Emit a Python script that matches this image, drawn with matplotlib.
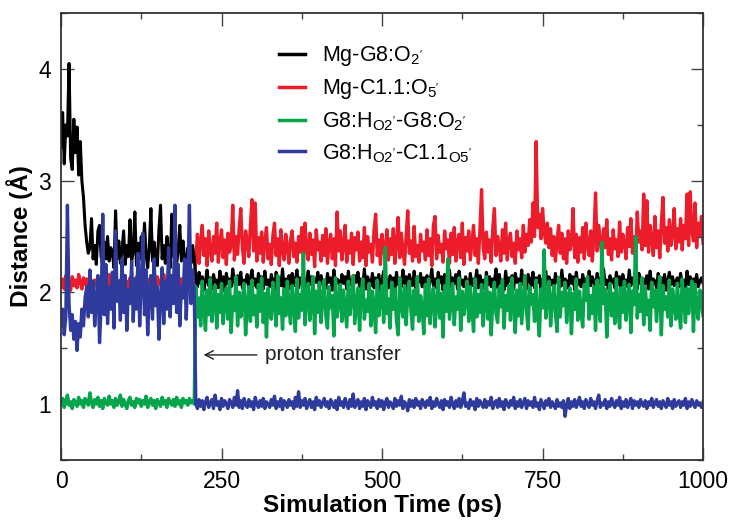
import numpy as np
import matplotlib
matplotlib.use("Agg")
import matplotlib.pyplot as plt
from matplotlib.ticker import MultipleLocator
from matplotlib.lines import Line2D

plt.rcParams['font.family'] = ['Liberation Sans', 'DejaVu Sans']
plt.rcParams['mathtext.fontset'] = 'custom'
plt.rcParams['mathtext.rm'] = 'Liberation Sans'
plt.rcParams['mathtext.it'] = 'Liberation Sans:italic'
plt.rcParams['mathtext.bf'] = 'Liberation Sans:bold'

# ---------------- data: distances (Angstrom), sampled every 2.5 ps ----------------
DT = 2.5
T_SWITCH = 210.0   # proton transfer time (ps)

black_pre = [3.30, 3.61, 3.15, 3.50, 3.40, 4.05, 3.20, 3.10, 3.55, 3.25,
             3.48, 3.05, 3.35, 3.00, 2.85, 2.60, 2.45, 2.35, 2.40, 2.66,
             2.30, 2.42, 2.25, 2.55, 2.60, 2.32, 2.24, 2.45, 2.30, 2.50,
             2.28, 2.40, 2.35, 2.22, 2.73, 2.30, 2.46, 2.26, 2.38, 2.55,
             2.25, 2.42, 2.32, 2.65, 2.28, 2.36, 2.72, 2.24, 2.44, 2.30,
             2.50, 2.26, 2.62, 2.34, 2.22, 2.40, 2.75, 2.28, 2.45, 2.32,
             2.24, 2.56, 2.78, 2.30, 2.42, 2.26, 2.50, 2.35, 2.22, 2.70,
             2.32, 2.44, 2.25, 2.38, 2.60, 2.28, 2.46, 2.30, 2.24, 2.40,
             2.34, 2.26, 2.42, 2.30]
black_post = [
    2.12, 2.05, 2.18, 2.08, 2.14, 2.02, 2.10, 2.20, 2.06, 2.13, 2.03, 2.16, 2.09, 2.11, 2.04, 2.19, 2.07, 2.14, 2.01, 2.17,
    2.08, 2.12, 2.05, 2.21, 2.10, 2.03, 2.15, 2.07, 2.18, 2.04, 2.11, 2.09, 2.16, 2.02, 2.13, 2.20, 2.06, 2.12, 2.04, 2.17,
    2.09, 2.14, 2.03, 2.19, 2.07, 2.11, 2.05, 2.16, 2.10, 2.02, 2.18, 2.08, 2.13, 2.06, 2.21, 2.04, 2.12, 2.09, 2.15, 2.03,
    2.17, 2.06, 2.11, 2.20, 2.04, 2.13, 2.08, 2.16, 2.02, 2.10, 2.19, 2.07, 2.14, 2.05, 2.12, 2.09, 2.18, 2.03, 2.15, 2.08,
    2.11, 2.04, 2.17, 2.09, 2.13, 2.02, 2.20, 2.06, 2.12, 2.10, 2.05, 2.16, 2.08, 2.14, 2.03, 2.19, 2.07, 2.11, 2.04, 2.15,
    2.09, 2.18, 2.05, 2.12, 2.07, 2.21, 2.03, 2.14, 2.10, 2.06, 2.17, 2.04, 2.13, 2.08, 2.16, 2.02, 2.11, 2.19, 2.06, 2.12,
    2.04, 2.15, 2.09, 2.13, 2.02, 2.18, 2.07, 2.11, 2.05, 2.20, 2.08, 2.14, 2.03, 2.16, 2.10, 2.06, 2.19, 2.04, 2.12, 2.09,
    2.17, 2.05, 2.13, 2.08, 2.15, 2.03, 2.11, 2.21, 2.06, 2.12, 2.04, 2.18, 2.09, 2.14, 2.02, 2.16, 2.07, 2.10, 2.20, 2.05,
    2.13, 2.08, 2.16, 2.03, 2.19, 2.07, 2.11, 2.05, 2.14, 2.10, 2.02, 2.17, 2.06, 2.12, 2.09, 2.20, 2.04, 2.15, 2.08, 2.11,
    2.03, 2.18, 2.07, 2.14, 2.05, 2.12, 2.09, 2.21, 2.04, 2.16, 2.08, 2.11, 2.02, 2.19, 2.06, 2.13, 2.10, 2.15, 2.03, 2.17,
    2.09, 2.12, 2.05, 2.20, 2.07, 2.14, 2.03, 2.16, 2.11, 2.06, 2.18, 2.04, 2.13, 2.09, 2.15, 2.02, 2.12, 2.08, 2.19, 2.05,
    2.14, 2.07, 2.11, 2.03, 2.17, 2.09, 2.13, 2.05, 2.20, 2.06, 2.12, 2.10, 2.04, 2.16, 2.08, 2.14, 2.02, 2.18, 2.07, 2.11,
    2.05, 2.16, 2.09, 2.12, 2.03, 2.19, 2.06, 2.14, 2.10, 2.04, 2.17, 2.08, 2.13, 2.05, 2.21, 2.07, 2.11, 2.03, 2.15, 2.09,
    2.12, 2.04, 2.18, 2.07, 2.14, 2.02, 2.16, 2.09, 2.11, 2.05, 2.20, 2.06, 2.13, 2.08, 2.15, 2.03, 2.17, 2.10, 2.04, 2.12,
    2.08, 2.15, 2.03, 2.19, 2.06, 2.12, 2.10, 2.04, 2.17, 2.09, 2.13, 2.05, 2.16, 2.02, 2.11, 2.18, 2.07, 2.14, 2.06, 2.10,
    2.13, 2.05, 2.17, 2.08, 2.11, 2.04, 2.19, 2.07, 2.14, 2.03, 2.12, 2.09, 2.16, 2.05, 2.10, 2.13, 2.08]

red_pre = [2.05, 2.12, 2.03, 2.15, 2.08, 2.10, 2.02, 2.14, 2.06, 2.11,
           2.04, 2.16, 2.09, 2.03, 2.13, 2.07, 2.12, 2.05, 2.15, 2.08,
           2.02, 2.11, 2.06, 2.14, 2.09, 2.04, 2.13, 2.07, 2.10, 2.03,
           2.16, 2.08, 2.12, 2.05, 2.14, 2.09, 2.03, 2.11, 2.07, 2.15,
           2.06, 2.10, 2.04, 2.13, 2.08, 2.12, 2.02, 2.14, 2.07, 2.11,
           2.05, 2.15, 2.09, 2.03, 2.12, 2.06, 2.13, 2.08, 2.10, 2.04,
           2.14, 2.07, 2.11, 2.05, 2.16, 2.09, 2.03, 2.12, 2.06, 2.13,
           2.08, 2.10, 2.04, 2.15, 2.07, 2.12, 2.05, 2.11, 2.09, 2.14,
           2.06, 2.12, 2.08, 2.10]
red_post = [
    2.30, 2.52, 2.26, 2.45, 2.60, 2.33, 2.48, 2.24, 2.55, 2.38, 2.28, 2.50, 2.35, 2.62, 2.27, 2.44, 2.56, 2.31, 2.47, 2.25,
    2.53, 2.36, 2.42, 2.78, 2.29, 2.50, 2.34, 2.58, 2.75, 2.40, 2.26, 2.55, 2.45, 2.32, 2.60, 2.83, 2.37, 2.80, 2.28, 2.49,
    2.35, 2.54, 2.27, 2.46, 2.58, 2.30, 2.43, 2.25, 2.51, 2.62, 2.33, 2.48, 2.24, 2.56, 2.38, 2.29, 2.52, 2.41, 2.26, 2.47,
    2.55, 2.32, 2.44, 2.27, 2.50, 2.36, 2.58, 2.25, 2.62, 2.40, 2.29, 2.53, 2.34, 2.47, 2.23, 2.56, 2.38, 2.45, 2.28, 2.51,
    2.33, 2.57, 2.26, 2.44, 2.52, 2.30, 2.48, 2.24, 2.72, 2.37, 2.55, 2.29, 2.42, 2.60, 2.27, 2.46, 2.35, 2.53, 2.25, 2.49,
    2.38, 2.54, 2.28, 2.45, 2.31, 2.58, 2.24, 2.50, 2.36, 2.43, 2.27, 2.55, 2.70, 2.33, 2.47, 2.25, 2.52, 2.39, 2.30, 2.56,
    2.29, 2.48, 2.34, 2.57, 2.26, 2.44, 2.67, 2.31, 2.53, 2.38, 2.25, 2.50, 2.73, 2.35, 2.46, 2.28, 2.59, 2.32, 2.42, 2.27,
    2.52, 2.37, 2.45, 2.29, 2.56, 2.33, 2.48, 2.24, 2.60, 2.68, 2.30, 2.51, 2.36, 2.43, 2.27, 2.55, 2.39, 2.47, 2.26, 2.53,
    2.34, 2.58, 2.28, 2.45, 2.52, 2.31, 2.62, 2.25, 2.49, 2.37, 2.55, 2.29, 2.44, 2.60, 2.33, 2.48, 2.26, 2.57, 2.92, 2.40,
    2.30, 2.54, 2.36, 2.47, 2.27, 2.58, 2.75, 2.33, 2.50, 2.41, 2.28, 2.56, 2.35, 2.62, 2.29, 2.46, 2.53, 2.32, 2.44, 2.26,
    2.55, 2.38, 2.48, 2.31, 2.60, 2.36, 2.52, 2.42, 2.65, 2.45, 2.80, 2.50, 3.35, 2.58, 2.70, 2.48, 2.75, 2.55, 2.44, 2.62,
    2.40, 2.57, 2.33, 2.50, 2.28, 2.46, 2.60, 2.35, 2.53, 2.30, 2.48, 2.26, 2.55, 2.38, 2.44, 2.75, 2.31, 2.52, 2.27, 2.49,
    2.36, 2.58, 2.30, 2.62, 2.42, 2.33, 2.55, 2.28, 2.50, 2.89, 2.37, 2.60, 2.45, 2.31, 2.57, 2.40, 2.65, 2.34, 2.48, 2.29,
    2.56, 2.39, 2.47, 2.32, 2.63, 2.36, 2.52, 2.44, 2.30, 2.58, 2.41, 2.66, 2.35, 2.50, 2.28, 2.72, 2.45, 2.55, 2.38, 2.88,
    2.42, 2.82, 2.36, 2.60, 2.47, 2.33, 2.68, 2.40, 2.55, 2.31, 2.62, 2.85, 2.44, 2.58, 2.37, 2.65, 2.42, 2.52, 2.75, 2.39,
    2.57, 2.45, 2.66, 2.38, 2.60, 2.48, 2.88, 2.42, 2.90, 2.55, 2.46, 2.80, 2.40, 2.62, 2.50, 2.68, 2.44]

green_pre = [1.00, 1.05, 0.97, 1.03, 1.08, 0.99, 1.02, 0.96, 1.04, 1.01,
             0.98, 1.06, 1.00, 1.03, 0.97, 1.05, 1.02, 0.99, 1.10, 1.01,
             0.97, 1.04, 1.00, 1.06, 0.98, 1.03, 0.96, 1.05, 1.01, 0.99,
             1.07, 1.00, 1.03, 0.97, 1.05, 0.99, 1.02, 1.08, 0.98, 1.04,
             1.00, 0.96, 1.03, 1.06, 0.99, 1.02, 0.97, 1.05, 1.01, 1.04,
             0.98, 1.03, 1.00, 1.07, 0.97, 1.02, 1.05, 0.99, 1.03, 0.96,
             1.04, 1.01, 0.98, 1.06, 1.00, 1.03, 0.97, 1.05, 1.02, 0.99,
             1.04, 0.98, 1.06, 1.00, 1.03, 0.97, 1.05, 1.01, 1.03, 0.99,
             1.05, 1.01, 1.03, 1.00]
green_post = [
    2.05, 1.78, 1.95, 1.70, 2.10, 1.85, 1.66, 2.02, 1.80, 2.12, 1.74, 1.92, 2.06, 1.68, 1.98, 1.82, 2.08, 1.72, 1.90, 2.04,
    1.76, 2.10, 1.64, 1.96, 1.84, 2.14, 1.70, 2.00, 1.78, 1.94, 2.08, 1.62, 1.88, 2.05, 1.74, 2.11, 1.80, 1.97, 1.69, 2.07,
    1.83, 2.13, 1.73, 1.99, 1.60, 2.04, 1.86, 1.76, 2.09, 1.92, 1.70, 2.15, 1.81, 1.95, 1.67, 2.03, 1.79, 2.10, 1.87, 1.72,
    2.06, 1.91, 1.65, 2.12, 1.77, 1.98, 1.84, 2.35, 1.71, 1.96, 2.08, 1.75, 1.89, 2.14, 1.63, 2.01, 1.82, 2.09, 1.73, 1.94,
    2.11, 1.79, 1.68, 2.05, 1.86, 1.97, 1.61, 2.13, 1.78, 1.92, 2.07, 1.74, 2.02, 1.85, 1.69, 2.10, 1.80, 1.95, 2.15, 1.72,
    1.88, 2.04, 1.66, 1.99, 2.12, 1.76, 1.93, 1.83, 2.08, 1.70, 2.01, 1.87, 1.64, 2.11, 1.79, 1.96, 2.06, 1.73, 2.40, 1.81,
    1.94, 1.68, 2.09, 1.85, 2.03, 1.75, 1.62, 2.13, 1.90, 1.78, 2.05, 1.71, 1.98, 2.10, 1.84, 1.67, 2.02, 1.80, 2.14, 1.74,
    1.97, 1.86, 1.63, 2.07, 1.79, 2.12, 1.72, 1.95, 2.04, 1.69, 1.89, 2.11, 1.77, 1.99, 1.60, 2.06, 1.83, 2.30, 1.76, 1.92,
    2.08, 1.71, 1.96, 1.85, 2.13, 1.66, 2.01, 1.80, 1.93, 2.10, 1.74, 2.05, 1.88, 1.65, 2.12, 1.78, 1.98, 1.82, 2.07, 1.70,
    1.91, 2.14, 1.76, 2.00, 1.62, 1.95, 2.09, 1.81, 1.73, 2.04, 1.87, 2.11, 1.68, 1.97, 1.84, 2.06, 1.75, 2.13, 1.90, 1.64,
    2.02, 1.79, 2.08, 1.72, 1.94, 2.15, 1.83, 1.67, 2.05, 1.89, 1.98, 1.74, 2.11, 1.80, 1.61, 2.03, 1.86, 2.38, 1.77, 1.96,
    2.10, 1.70, 1.92, 2.06, 1.82, 1.65, 2.13, 1.78, 2.00, 1.88, 2.09, 1.73, 1.95, 2.04, 1.63, 1.99, 1.85, 2.12, 1.75, 2.01,
    1.84, 1.69, 2.07, 1.93, 2.14, 1.76, 1.97, 1.81, 2.05, 1.66, 2.11, 1.87, 1.74, 2.45, 1.90, 2.03, 1.60, 1.96, 2.08, 1.79,
    1.99, 1.72, 2.12, 1.86, 1.68, 2.04, 1.82, 2.10, 1.75, 1.94, 2.07, 1.64, 2.01, 1.89, 2.50, 1.77, 1.98, 1.83, 2.13, 1.71,
    2.05, 1.80, 1.93, 1.66, 2.09, 1.87, 2.02, 1.74, 1.97, 2.14, 1.62, 2.06, 1.85, 1.96, 1.78, 2.11, 1.70, 2.03, 1.90, 1.76,
    2.08, 1.84, 1.68, 2.12, 1.95, 1.73, 2.04, 1.81, 1.99, 2.10, 1.65, 2.07, 1.88, 1.76, 2.02, 1.92, 1.79]

blue_pre = [1.70, 1.85, 1.62, 1.78, 2.78, 1.90, 1.66, 1.80, 1.58, 1.74,
            1.48, 1.72, 1.60, 1.85, 1.70, 1.95, 2.05, 1.78, 2.20, 1.82,
            2.10, 1.70, 1.95, 2.15, 1.55, 1.88, 2.70, 1.80, 2.25, 1.72,
            2.05, 1.85, 2.18, 1.68, 2.55, 1.92, 2.10, 1.75, 2.30, 1.82,
            2.15, 1.66, 2.02, 1.90, 2.28, 1.74, 2.12, 1.85, 2.35, 1.70,
            2.08, 2.53, 1.80, 2.20, 1.62, 1.98, 2.15, 1.76, 2.30, 1.88,
            2.05, 1.58, 1.95, 2.22, 1.72, 2.10, 1.85, 2.40, 1.78, 2.15,
            1.90, 2.78, 1.82, 2.25, 1.70, 2.05, 1.95, 2.30, 1.76, 2.12,
            2.78, 1.90, 2.20, 2.00]
blue_post = [
    1.00, 0.96, 1.04, 0.98, 1.03, 0.95, 1.02, 1.06, 0.97, 1.01, 1.04, 0.96, 1.08, 0.99, 1.02, 0.95, 1.05, 0.98, 1.03, 1.00,
    0.96, 1.04, 1.01, 0.97, 1.06, 0.99, 1.12, 0.97, 1.03, 0.96, 1.05, 1.00, 0.97, 1.04, 0.98, 1.02, 0.95, 1.06, 1.00, 0.97,
    1.03, 0.98, 1.05, 0.96, 1.02, 1.00, 0.97, 1.04, 0.99, 1.07, 0.96, 1.02, 0.98, 1.05, 0.95, 1.03, 1.01, 0.97, 1.04, 0.99,
    1.02, 0.96, 1.06, 0.98, 1.11, 0.97, 1.03, 0.99, 1.05, 0.96, 1.01, 1.04, 0.97, 1.02, 0.95, 1.06, 0.99, 1.03, 0.97, 1.01,
    1.05, 0.98, 1.02, 0.96, 1.04, 1.00, 0.97, 1.03, 0.95, 1.06, 0.99, 1.02, 0.97, 1.05, 1.00, 0.96, 1.04, 0.98, 1.09, 0.97,
    1.01, 1.04, 0.96, 1.02, 0.98, 1.05, 0.95, 1.03, 1.00, 0.97, 1.06, 0.99, 1.02, 0.96, 1.04, 0.98, 1.03, 0.95, 1.01, 1.05,
    0.97, 1.02, 1.00, 0.96, 1.05, 0.98, 1.03, 0.99, 1.07, 0.96, 1.02, 1.00, 0.94, 1.04, 0.98, 1.03, 0.97, 1.05, 0.99, 1.02,
    0.96, 1.04, 1.01, 0.97, 1.03, 0.99, 1.06, 0.96, 1.02, 0.98, 1.05, 1.00, 0.97, 1.03, 0.95, 1.04, 0.99, 1.02, 0.97, 1.06,
    1.00, 0.96, 1.03, 0.98, 1.05, 0.97, 1.02, 1.10, 0.98, 1.01, 0.96, 1.04, 0.99, 1.02, 0.95, 1.05, 0.98, 1.03, 1.00, 0.97,
    1.04, 0.97, 1.02, 0.99, 1.06, 0.96, 1.01, 1.03, 0.97, 1.05, 0.98, 1.02, 0.95, 1.04, 1.00, 0.97, 1.03, 0.99, 1.06, 0.96,
    1.02, 0.98, 1.04, 0.97, 1.01, 1.05, 0.96, 1.03, 0.99, 1.02, 0.97, 1.06, 0.98, 1.01, 0.95, 1.04, 1.00, 0.96, 1.03, 0.99,
    1.05, 0.97, 1.02, 0.99, 0.96, 1.04, 0.98, 1.01, 0.97, 1.03, 0.89, 0.99, 1.05, 0.96, 1.02, 0.98, 1.04, 0.97, 1.01, 1.06,
    0.98, 1.02, 0.96, 1.04, 1.00, 0.97, 1.05, 0.99, 1.02, 0.96, 1.03, 1.08, 0.97, 1.01, 0.99, 1.04, 0.96, 1.02, 0.98, 1.05,
    1.00, 0.97, 1.03, 0.99, 1.06, 0.96, 1.02, 0.98, 1.04, 0.97, 1.01, 1.05, 0.96, 1.03, 0.99, 1.02, 0.97, 1.04, 1.00, 0.98,
    1.03, 0.96, 1.02, 0.99, 1.05, 0.97, 1.01, 1.04, 0.98, 1.02, 0.96, 1.03, 1.00, 0.97, 1.05, 0.99, 1.02, 0.96, 1.04, 0.98,
    1.01, 1.03, 0.97, 1.02, 0.99, 1.05, 0.96, 1.02, 0.98, 1.04, 1.00, 0.97, 1.03, 0.99, 1.01, 0.97, 1.02]

labels = [r"Mg-G8:O$_{\mathrm{2'}}$",
          r"Mg-C1.1:O$_{\mathrm{5'}}$",
          r"G8:H$_{\mathrm{O2'}}$-G8:O$_{\mathrm{2'}}$",
          r"G8:H$_{\mathrm{O2'}}$-C1.1$_{\mathrm{O5'}}$"]
colors = ['#000000', '#ec1c2a', '#06a54c', '#2e3a9c']


def build(pre, post):
    t = np.concatenate([np.arange(len(pre)) * DT,
                        T_SWITCH + np.arange(len(post)) * DT])
    return t, np.concatenate([pre, post])


series = [build(black_pre, black_post), build(red_pre, red_post),
          build(green_pre, green_post), build(blue_pre, blue_post)]

# ---------------- figure ----------------
fig = plt.figure(figsize=(7.44, 5.25), dpi=100)
ax = fig.add_axes([0.082, 0.124, 0.863, 0.851])

zorders = [2, 1, 3, 4]
widths = [2.2, 2.4, 2.5, 2.4]
for (t, y), c, z, w in zip(series, colors, zorders, widths):
    ax.plot(t, y, color=c, lw=w, zorder=z)

ax.set_xlim(0, 1000)
ax.set_ylim(0.5, 4.5)
ax.xaxis.set_major_locator(MultipleLocator(250))
ax.xaxis.set_minor_locator(MultipleLocator(125))
ax.yaxis.set_major_locator(MultipleLocator(1))
ax.yaxis.set_minor_locator(MultipleLocator(0.5))
ax.tick_params(which='both', direction='in', top=True, right=True, width=1.0,
               color='#444444')
ax.tick_params(which='major', length=9, labelsize=16.5, pad=7)
ax.tick_params(which='minor', length=4)
for s in ax.spines.values():
    s.set_linewidth(1.3)
    s.set_color('#333333')
    s.set_zorder(5)

ax.set_xlabel('Simulation Time (ps)', fontsize=17.5, fontweight='bold', labelpad=1)
ax.set_ylabel('Distance (Å)', fontsize=17.5, fontweight='bold', labelpad=4)

handles = [Line2D([0], [0], color=c, lw=2.5) for c in colors]
ax.legend(handles, labels, loc='upper left', bbox_to_anchor=(0.316, 0.964),
          frameon=False, fontsize=15.5, handlelength=1.2, handletextpad=0.8,
          labelspacing=0.42, borderaxespad=0.3)

ax.annotate('proton transfer', xy=(222, 1.44), xytext=(318, 1.44),
            fontsize=15, va='center', ha='left', color='#222222',
            arrowprops=dict(arrowstyle='->', color='#222222', lw=1.0,
                            shrinkA=4, shrinkB=0))

fig.savefig('out.png', dpi=100)
